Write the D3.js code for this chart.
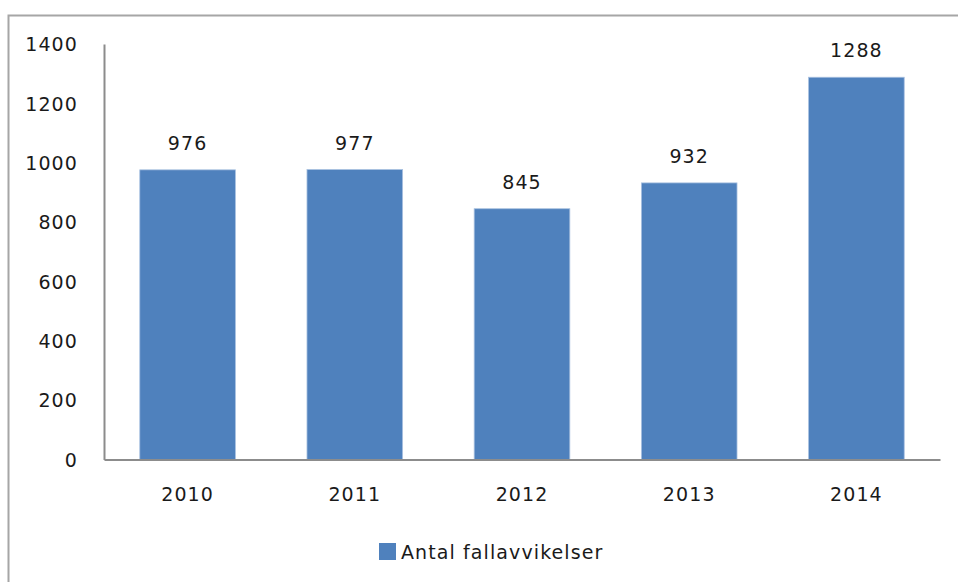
<!DOCTYPE html>
<html>
<head>
<meta charset="utf-8">
<script src="https://cdn.jsdelivr.net/npm/d3@7"></script>
<style>
  body { margin: 0; background: #fff; }
  text { font-family: "DejaVu Sans", sans-serif; fill: #1a1a1a; letter-spacing: 1.1px; }
</style>
</head>
<body>
<svg id="chart" width="958" height="582"></svg>
<script>
// data
const years = ["2010", "2011", "2012", "2013", "2014"];
const values = [976, 977, 845, 932, 1288];
const yTicks = [0, 200, 400, 600, 800, 1000, 1200, 1400];
const seriesName = "Antal fallavvikelser";

const svg = d3.select("#chart");
const margin = { left: 104, right: 18, top: 44, bottom: 122 };
const width = 958, height = 582;

// outer frame (only top and left visible)
svg.append("path")
    .attr("d", "M8.5,582 L8.5,15.5 L958,15.5")
    .attr("fill", "none")
    .attr("stroke", "#a6a6a6")
    .attr("stroke-width", 2);

const x = d3.scaleBand()
    .domain(years)
    .range([margin.left, width - margin.right])
    .paddingInner(0.428)
    .paddingOuter(0.214);

const y = d3.scaleLinear()
    .domain([0, 1400])
    .range([height - margin.bottom - 0.5, margin.top]);

// bars
svg.selectAll(".bar")
    .data(values)
    .enter()
    .append("rect")
    .attr("class", "bar")
    .attr("x", (d, i) => x(years[i]))
    .attr("width", x.bandwidth())
    .attr("y", d => y(d))
    .attr("height", d => y(0) - y(d))
    .attr("fill", "#4f81bd")
    .attr("stroke", "#a9c1e0")
    .attr("stroke-width", 0.8);

// value labels
svg.selectAll(".lbl")
    .data(values)
    .enter()
    .append("text")
    .attr("x", (d, i) => x(years[i]) + x.bandwidth() / 2)
    .attr("y", d => y(d) - 20)
    .attr("text-anchor", "middle")
    .style("font-size", "19px")
    .text(d => d);

// y axis
const yAxis = svg.append("g")
    .attr("transform", `translate(${margin.left},0)`)
    .call(d3.axisLeft(y).tickValues(yTicks).tickFormat(d3.format("d")).tickSize(0).tickPadding(26));
yAxis.select(".domain").attr("stroke", "#8c8c8c").attr("stroke-width", 2);
yAxis.selectAll("text").style("font-size", "19px").attr("dy", "0.35em");

// x axis
const xAxis = svg.append("g")
    .attr("transform", `translate(0,${y(0)})`)
    .call(d3.axisBottom(x).tickSize(0).tickPadding(28));
xAxis.select(".domain").attr("stroke", "#8c8c8c").attr("stroke-width", 2);
xAxis.selectAll("text").style("font-size", "19px");

// legend
const legend = svg.append("g").attr("transform", "translate(379,543)");
legend.append("rect")
    .attr("width", 17).attr("height", 17)
    .attr("fill", "#4f81bd");
legend.append("text")
    .attr("x", 22).attr("y", 16)
    .style("font-size", "19px")
    .text(seriesName);
</script>
</body>
</html>
